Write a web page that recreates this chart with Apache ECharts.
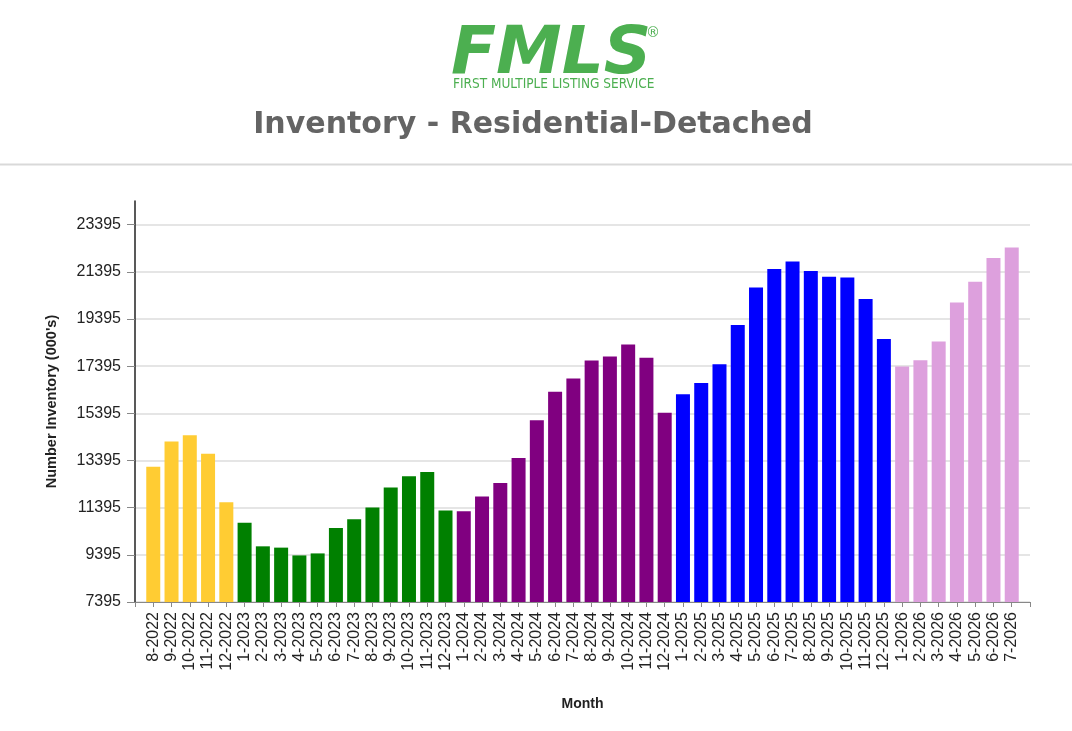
<!DOCTYPE html>
<html>
<head>
<meta charset="utf-8">
<script src="https://cdn.jsdelivr.net/npm/echarts@6/dist/echarts.min.js"></script>
<style>
html,body{margin:0;padding:0;background:#fff;}
#chart{width:1072px;height:731px;}
</style>
</head>
<body>
<div id="chart"></div>
<script>
const months = [
  '8-2022','9-2022','10-2022','11-2022','12-2022',
  '1-2023','2-2023','3-2023','4-2023','5-2023','6-2023','7-2023','8-2023','9-2023','10-2023','11-2023','12-2023',
  '1-2024','2-2024','3-2024','4-2024','5-2024','6-2024','7-2024','8-2024','9-2024','10-2024','11-2024','12-2024',
  '1-2025','2-2025','3-2025','4-2025','5-2025','6-2025','7-2025','8-2025','9-2025','10-2025','11-2025','12-2025',
  '1-2026','2-2026','3-2026','4-2026','5-2026','6-2026','7-2026'
];
const inventory = [
  13125, 14200, 14460, 13675, 11625,
  10760, 9755, 9700, 9370, 9455, 10530, 10900, 11400, 12250, 12730, 12910, 11270,
  11240, 11865, 12445, 13505, 15095, 16310, 16865, 17630, 17800, 18310, 17755, 15420,
  16200, 16680, 17475, 19135, 20730, 21515, 21825, 21430, 21185, 21155, 20240, 18540,
  17375, 17645, 18435, 20095, 20975, 21980, 22420
];
const yTicks = [7395, 9395, 11395, 13395, 15395, 17395, 19395, 21395, 23395];
const yearColors = {
  '2022': '#FFCC33',
  '2023': '#008000',
  '2024': '#800080',
  '2025': '#0000FF',
  '2026': '#DDA0DD'
};

const chart = echarts.init(document.getElementById('chart'), null, {renderer: 'canvas'});

const axisCats = [''].concat(months, ['']);
const barData = [null].concat(months.map(function (m, i) {
  return { value: inventory[i], itemStyle: { color: yearColors[m.split('-')[1]] } };
}), [null]);

chart.setOption({
  animation: false,
  backgroundColor: '#ffffff',
  graphic: [
    {
      type: 'text', left: 451, top: 23,
      style: { text: 'FMLS', font: 'italic bold 66px "DejaVu Sans"', fill: '#4CAF50' }
    },
    {
      type: 'text', left: 646, top: 26,
      style: { text: '®', font: '14px "DejaVu Sans"', fill: '#4CAF50' }
    },
    {
      type: 'text', left: 453, top: 77,
      style: { text: 'FIRST MULTIPLE LISTING SERVICE', font: '13.5px "DejaVu Sans Condensed"', fill: '#4CAF50' }
    },
    {
      type: 'text', x: 533, y: 125,
      style: { text: 'Inventory - Residential-Detached', font: 'bold 30px "DejaVu Sans"', fill: '#646464', align: 'center', verticalAlign: 'middle' }
    },
    {
      type: 'line', shape: { x1: 0, y1: 164.5, x2: 1072, y2: 164.5 },
      style: { stroke: '#d9d9d9', lineWidth: 2 }
    }
  ],
  grid: { left: 135, right: 42, top: 201, bottom: 129, containLabel: false },
  xAxis: {
    type: 'category',
    data: axisCats,
    boundaryGap: false,
    name: 'Month',
    nameLocation: 'middle',
    nameGap: 95,
    nameTextStyle: { fontFamily: 'Liberation Sans', fontWeight: 'bold', fontSize: 14, color: '#222' },
    axisLine: { lineStyle: { color: '#888', width: 1 } },
    axisTick: { show: true, interval: 0, length: 5, lineStyle: { color: '#888' } },
    axisLabel: { interval: 0, rotate: 90, margin: 10, fontFamily: 'Liberation Sans', fontSize: 16, color: '#222' },
    splitLine: { show: false }
  },
  yAxis: {
    type: 'value',
    min: 7395,
    max: 24395,
    name: "Number Inventory (000's)",
    nameLocation: 'middle',
    nameGap: 76,
    nameTextStyle: { fontFamily: 'Liberation Sans', fontWeight: 'bold', fontSize: 14.5, color: '#222' },
    axisLine: { show: true, lineStyle: { color: '#222', width: 1.5 } },
    axisTick: { show: true, length: 8, customValues: yTicks, lineStyle: { color: '#888' } },
    axisLabel: {
      customValues: yTicks, margin: 14, fontFamily: 'Liberation Sans', fontSize: 16, color: '#222',
      formatter: function (v) { return String(v); }
    },
    splitLine: { show: true, lineStyle: { color: '#dcdcdc', width: 1.5 } }
  },
  series: [{
    type: 'bar',
    data: barData,
    barWidth: 14
  }]
});
</script>
</body>
</html>
